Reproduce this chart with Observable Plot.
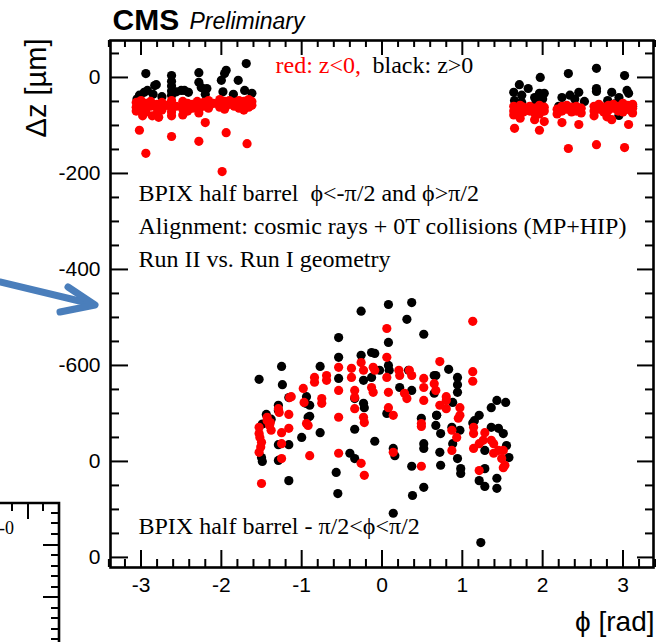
<!DOCTYPE html>
<html>
<head>
<meta charset="utf-8">
<script src="https://cdn.jsdelivr.net/npm/d3@7"></script>
<script src="https://cdn.jsdelivr.net/npm/@observablehq/plot@0.6"></script>
<style>
  html, body { margin: 0; padding: 0; background: #fff; }
  #wrap { position: relative; width: 656px; height: 642px; overflow: hidden; }
  #wrap svg.overlay { position: absolute; left: 0; top: 0; pointer-events: none; }
</style>
</head>
<body>
<div id="wrap"></div>
<script>
// ---------- data (phi [rad], dz [um]) ----------
const blackTop = [
  [-2.94,8],[-2.81,-15],[-2.96,-31],[-3.02,-37],[-2.62,4],[-2.62,-8],[-2.62,-18],[-2.62,-28],[-2.62,-37],
  [-2.50,-27],[-2.41,-31],[-2.28,10],[-2.28,-10],[-2.25,-21],[-2.18,-23],[-2.00,-6],[-1.94,15],[-1.96,8],
  [-1.79,-6],[-1.69,29],[-1.71,-27],[-1.62,-33],[-2.46,-27],[-2.20,-35],[-1.85,-35],[-1.98,-30],[-2.85,-35],
  [-3.05,-45],[-2.74,-40],[-2.92,-27],[-2.83,-17],[-2.56,-30],
  [1.64,-31],[1.71,-15],[1.74,-37],[1.82,-23],[1.90,-42],[1.97,0],[1.96,-33],[2.02,-33],[2.24,-42],
  [2.32,8],[2.34,-37],[2.45,-31],[2.67,19],[2.67,-23],[2.67,-29],[2.86,-31],[2.81,-48],[2.95,-42],
  [3.02,4],[3.05,-27],[3.07,-33],[3.10,-69],[2.95,-79],[1.65,-48],[1.74,-52],[2.40,-45],[2.52,-50],
  [2.20,-60],[2.90,-55],[3.12,-60],[1.92,-50],[2.00,-45]
];
const redTop = [
  [-3.06,-52],[-3.06,-62],[-3.06,-70],[-3.00,-48],[-3.00,-58],[-3.00,-66],[-2.94,-54],[-2.94,-63],[-2.94,-72],
  [-2.88,-50],[-2.88,-60],[-2.80,-56],[-2.80,-64],[-2.80,-75],[-2.74,-52],[-2.74,-68],[-2.68,-58],[-2.62,-48],
  [-2.62,-56],[-2.62,-64],[-2.62,-72],[-2.62,-80],[-2.56,-60],[-2.48,-50],[-2.48,-58],[-2.48,-66],[-2.42,-54],
  [-2.42,-62],[-2.42,-70],[-2.36,-56],[-2.36,-64],[-2.30,-50],[-2.28,-58],[-2.28,-66],[-2.28,-74],[-2.22,-52],
  [-2.22,-60],[-2.16,-48],[-2.16,-56],[-2.16,-64],[-2.10,-54],[-2.02,-46],[-2.02,-54],[-2.02,-62],[-1.96,-50],
  [-1.96,-58],[-1.96,-66],[-1.90,-48],[-1.90,-56],[-1.84,-52],[-1.84,-60],[-1.78,-48],[-1.78,-56],[-1.78,-64],
  [-1.72,-50],[-1.72,-58],[-1.72,-68],[-1.66,-46],[-1.66,-54],[-1.66,-62],[-1.62,-50],[-1.62,-58],
  [-3.02,-110],[-2.94,-158],[-2.78,-83],[-2.62,-123],[-2.28,-133],[-2.20,-94],[-1.94,-115],[-1.99,-196],
  [-1.68,-138],[-2.86,-80],[-2.48,-78],[-2.98,-80],
  [1.64,-60],[1.64,-70],[1.64,-78],[1.68,-64],[1.68,-74],[1.72,-58],[1.72,-68],[1.76,-62],[1.76,-72],[1.80,-66],
  [1.84,-60],[1.84,-70],[1.90,-64],[1.90,-74],[1.96,-58],[1.96,-66],[1.96,-76],[2.02,-62],[2.02,-70],[2.18,-66],
  [2.18,-76],[2.24,-60],[2.24,-70],[2.30,-58],[2.30,-66],[2.36,-62],[2.36,-72],[2.42,-60],[2.42,-70],[2.48,-64],
  [2.48,-74],[2.64,-60],[2.64,-70],[2.64,-80],[2.70,-56],[2.70,-66],[2.76,-62],[2.76,-72],[2.82,-58],[2.82,-68],
  [2.88,-56],[2.88,-64],[2.94,-60],[2.94,-70],[3.00,-54],[3.00,-62],[3.00,-72],[3.06,-58],[3.06,-66],[3.12,-56],
  [3.12,-64],[3.12,-74],
  [1.65,-106],[1.96,-110],[2.32,-148],[2.67,-140],[3.02,-146],[2.45,-98],[2.24,-94],[2.86,-88],[3.07,-98],
  [1.90,-88],[2.02,-92],[1.72,-85],[2.80,-82]
];
const blackBottom = [
  [-1.53,-629],[-1.25,-602],[-1.24,-640],[-1.16,-667],[-0.77,-602],[-0.54,-542],[-0.54,-583],[-0.54,-627],
  [-0.94,-665],[-0.95,-679],[-0.90,-683],[-0.90,-706],[-1.00,-750],[-0.77,-740],[-1.29,-683],[-1.29,-694],
  [-1.44,-702],[-1.38,-712],[-1.50,-792],[-1.49,-800],[-1.29,-765],[-1.29,-798],[-1.16,-765],[-1.16,-840],
  [-0.57,-823],[-0.55,-867],[-0.92,-708],[-1.49,-722],
  [-0.26,-487],[0.08,-473],[0.37,-469],[0.31,-504],[0.52,-535],[0.08,-552],[-0.26,-579],[-0.13,-573],
  [-0.09,-575],[0.08,-600],[0.09,-610],[-0.23,-631],[-0.13,-625],[-0.03,-610],[0.22,-646],[0.33,-610],
  [0.37,-652],[0.65,-621],[-0.34,-669],[-0.23,-679],[-0.22,-688],[0.06,-700],[0.49,-710],[0.68,-704],
  [-0.34,-733],[-0.09,-758],[0.14,-773],[0.16,-788],[-0.40,-783],[-0.34,-794],[0.52,-763],[0.52,-773],
  [0.37,-810],[0.52,-854],[0.38,-871],[0.14,-908],
  [0.67,-621],[0.83,-608],[0.94,-625],[0.94,-640],[0.94,-656],[0.65,-658],[0.88,-677],[0.68,-704],
  [0.67,-725],[0.97,-735],[0.87,-729],[0.73,-742],[0.88,-763],[0.72,-781],[0.94,-794],[0.73,-808],
  [0.98,-815],[0.98,-825],[1.21,-704],[1.15,-715],[1.13,-720],[1.36,-688],[1.43,-673],[1.54,-677],
  [1.36,-729],[1.45,-731],[1.51,-742],[1.28,-777],[1.55,-767],[1.58,-792],[1.28,-815],[1.43,-835],
  [1.21,-840],[1.28,-852],[1.43,-856],[1.23,-969]
];
const redBottom = [
  [-1.53,-729],[-1.53,-742],[-1.50,-760],[-1.43,-708],[-1.39,-719],[-1.38,-735],[-1.29,-690],[-1.28,-698],
  [-1.25,-740],[-1.25,-763],[-1.16,-702],[-1.15,-667],[-1.13,-665],[-1.16,-731],[-1.25,-794],[-1.53,-781],
  [-1.50,-846],[-0.98,-648],[-0.97,-677],[-0.94,-721],[-0.92,-725],[-0.90,-788],[-0.84,-625],[-0.84,-635],
  [-0.75,-669],[-0.75,-679],[-0.69,-621],[-0.69,-631],[-0.54,-604],[-0.54,-652],[-0.54,-708],[-0.54,-783],
  [-1.52,-750],[-1.51,-770],[-1.43,-715],[-1.40,-725],
  [0.06,-523],[0.06,-583],[-0.38,-606],[-0.38,-625],[-0.26,-594],[-0.23,-610],[-0.11,-604],[-0.09,-610],
  [0.06,-625],[0.21,-610],[0.22,-621],[0.34,-610],[0.37,-621],[0.52,-627],[0.52,-646],[0.52,-673],
  [-0.34,-652],[-0.34,-667],[-0.13,-646],[-0.11,-656],[0.08,-656],[0.28,-658],[0.31,-669],[-0.34,-690],
  [-0.23,-708],[-0.22,-719],[0.08,-688],[0.14,-704],[0.49,-721],[0.49,-727],[0.14,-781],[-0.26,-804],
  [-0.22,-829],[0.49,-810],
  [1.13,-508],[0.72,-592],[1.13,-613],[1.13,-633],[0.65,-638],[0.67,-652],[0.80,-665],[0.80,-673],
  [0.72,-683],[0.80,-690],[0.97,-688],[0.97,-704],[0.95,-710],[0.87,-735],[0.93,-750],[1.14,-729],
  [1.14,-742],[1.28,-740],[1.26,-756],[1.21,-763],[1.36,-756],[1.39,-763],[1.45,-777],[1.51,-777],
  [1.39,-783],[1.14,-773],[1.49,-794],[1.51,-813],[1.53,-808],[1.21,-819],[0.87,-777]
];

// ---------- axes ----------
const xMajor = [-3, -2, -1, 0, 1, 2, 3];
const xLabels = ["-3", "-2", "-1", "0", "1", "2", "3"];
const yMajor = [0, -200, -400, -600, -800, -1000];
const yLabels = ["0", "-200", "-400", "-600", "0", "0"];
const xMinor = d3.range(-34, 35, 2).map(v => v / 10).filter(v => !xMajor.includes(v));
const yMinor = d3.range(50, -1001, -50).filter(v => !yMajor.includes(v));

// ---------- texts ----------
const titleBold = "CMS";
const titleItalic = "Preliminary";
const legendRed = "red: z<0,";
const legendBlack = "black: z>0";
const infoLines = ["BPIX half barrel  ϕ<-π/2 and ϕ>π/2",
                   "Alignment: cosmic rays + 0T collisions (MP+HIP)",
                   "Run II vs. Run I geometry"];
const bottomInfo = "BPIX half barrel - π/2<ϕ<π/2";
const xTitle = "ϕ [rad]";
const yTitle = "Δz [µm]";
const fragmentLabel = "-0";

const W = 656, H = 642, mL = 110, mR = 3, mT = 40, mB = 75;
const pw = W - mL - mR, ph = H - mT - mB;
const sans = "Liberation Sans, Arial, Helvetica, sans-serif";
const serif = "Liberation Serif, Times New Roman, serif";
const toObj = a => a.map(([x, y]) => ({x, y}));
const infoDy = [160, 193, 226];

const tickW = 2;
const note = (txt, dx, dy, extra = {}) => Plot.text([txt], {
  frameAnchor: "top-left", dx, dy, textAnchor: "start", lineAnchor: "bottom",
  fontFamily: serif, fontSize: 24, fill: "black", ...extra
});

const plot = Plot.plot({
  width: W, height: H,
  marginLeft: mL, marginRight: mR, marginTop: mT, marginBottom: mB,
  x: {domain: [-3.38, 3.38], axis: null},
  y: {domain: [-1021, 77], axis: null},
  style: {background: "white", overflow: "visible"},
  marks: [
    // points
    Plot.dot(toObj(blackTop.concat(blackBottom)), {x: "x", y: "y", r: 4.6, fill: "black", stroke: "none"}),
    Plot.dot(toObj(redTop.concat(redBottom)), {x: "x", y: "y", r: 4.6, fill: "#ff0000", stroke: "none"}),
    // ticks: bottom / top
    Plot.ruleX(xMajor, {x: d => d, insetTop: ph - 17, stroke: "black", strokeWidth: tickW}),
    Plot.ruleX(xMinor, {x: d => d, insetTop: ph - 8, stroke: "black", strokeWidth: tickW}),
    Plot.ruleX(xMajor, {x: d => d, insetBottom: ph - 15, stroke: "black", strokeWidth: tickW}),
    Plot.ruleX(xMinor, {x: d => d, insetBottom: ph - 7, stroke: "black", strokeWidth: tickW}),
    // ticks: left / right
    Plot.ruleY(yMajor, {y: d => d, insetRight: pw - 18, stroke: "black", strokeWidth: tickW}),
    Plot.ruleY(yMinor, {y: d => d, insetRight: pw - 9, stroke: "black", strokeWidth: tickW}),
    Plot.ruleY(yMajor, {y: d => d, insetLeft: pw - 16, stroke: "black", strokeWidth: tickW}),
    Plot.ruleY(yMinor, {y: d => d, insetLeft: pw - 8, stroke: "black", strokeWidth: tickW}),
    Plot.frame({stroke: "black", strokeWidth: 2.6}),
    // tick labels
    Plot.text(xMajor, {x: d => d, frameAnchor: "bottom", dy: 18, lineAnchor: "middle",
      text: (d, i) => xLabels[i], fontFamily: sans, fontSize: 21, fill: "black"}),
    Plot.text(yMajor, {y: d => d, frameAnchor: "left", dx: -10, textAnchor: "end", lineAnchor: "middle",
      text: (d, i) => yLabels[i], fontFamily: sans, fontSize: 21, fill: "black"}),
    // axis titles
    Plot.text([xTitle], {frameAnchor: "bottom-right", dx: 1, dy: 63, textAnchor: "end", lineAnchor: "bottom",
      fontFamily: sans, fontSize: 28, fill: "black"}),
    Plot.text([yTitle], {frameAnchor: "top-left", dx: -65, dy: -2, rotate: -90, textAnchor: "end",
      lineAnchor: "bottom", fontFamily: sans, fontSize: 29, fill: "black"}),
    // title
    note(titleBold, 2, -11, {fontFamily: sans, fontSize: 30, fontWeight: "bold"}),
    note(titleItalic, 79, -12, {fontFamily: sans, fontSize: 23, fontStyle: "italic"}),
    // legend texts
    note(legendRed, 165, 32, {fill: "#ff0000"}),
    note(legendBlack, 262, 32),
    // info texts
    note(infoLines[0], 28, infoDy[0]),
    note(infoLines[1], 28, infoDy[1]),
    note(infoLines[2], 28, infoDy[2]),
    note(bottomInfo, 28, 493),
  ]
});

const wrap = document.getElementById("wrap");
wrap.appendChild(plot);

// ---------- decorations from the slide (arrow and a cropped neighbouring plot) ----------
const ov = d3.create("svg").attr("class", "overlay").attr("width", W).attr("height", H);
ov.append("path").attr("d", "M0,282 L92,304").attr("stroke", "#4A7EBB").attr("stroke-width", 7)
  .attr("stroke-linecap", "round").attr("fill", "none");
ov.append("path").attr("d", "M68,287 L95,305 L60,312").attr("stroke", "#4A7EBB").attr("stroke-width", 7)
  .attr("stroke-linecap", "round").attr("stroke-linejoin", "round").attr("fill", "none");
ov.append("path").attr("d", "M0,503 L59,503 L59,642").attr("stroke", "black").attr("stroke-width", 2.6).attr("fill", "none");
const fragTopTicks = [[12, 8], [28, 16], [43, 8]];
fragTopTicks.forEach(([x, l]) => ov.append("line").attr("x1", x).attr("x2", x).attr("y1", 503).attr("y2", 503 + l)
  .attr("stroke", "black").attr("stroke-width", 2));
const fragRightTicks = [[513, 8], [523, 8], [534, 8], [545, 16], [555, 8], [566, 8], [576, 8], [587, 8], [597, 16], [608, 8], [618, 8], [629, 8], [639, 8]];
fragRightTicks.forEach(([y, l]) => ov.append("line").attr("x1", 59 - l).attr("x2", 59).attr("y1", y).attr("y2", y)
  .attr("stroke", "black").attr("stroke-width", 2));
ov.append("text").attr("x", 14).attr("y", 534).attr("text-anchor", "end").attr("font-family", serif)
  .attr("font-size", 18).text(fragmentLabel);
wrap.appendChild(ov.node());
</script>
</body>
</html>
